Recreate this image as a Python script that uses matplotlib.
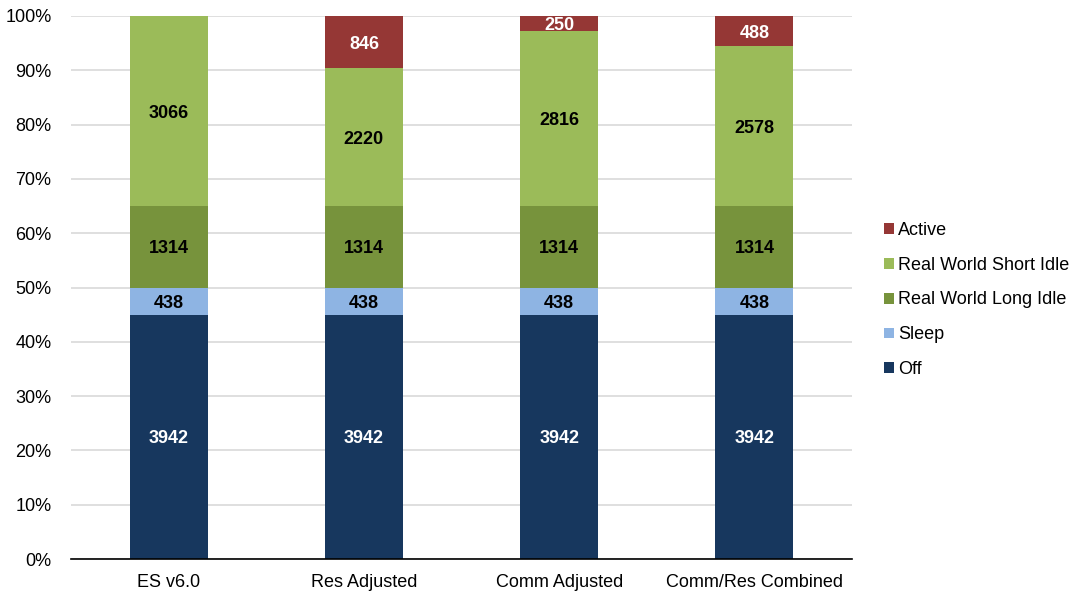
import numpy as np
import matplotlib
matplotlib.use("Agg")
import matplotlib.pyplot as plt
from matplotlib.patches import Patch

plt.rcParams['font.family'] = ['Liberation Sans', 'DejaVu Sans']

# hours per year in each mode
scenarios = ['ES v6.0', 'Res Adjusted', 'Comm Adjusted', 'Comm/Res Combined']
off = [3942, 3942, 3942, 3942]
sleep = [438, 438, 438, 438]
long_idle = [1314, 1314, 1314, 1314]
short_idle = [3066, 2220, 2816, 2578]
active = [0, 846, 250, 488]

modes = ['Off', 'Sleep', 'Real World Long Idle', 'Real World Short Idle', 'Active']
series = [off, sleep, long_idle, short_idle, active]
colors = ['#17375E', '#8EB4E3', '#77933C', '#9BBB59', '#953735']
text_colors = ['white', 'black', 'black', 'black', 'white']

data = np.array(series, dtype=float)
totals = data.sum(axis=0)
pct = data / totals * 100

fig = plt.figure(figsize=(10.75, 5.94), dpi=100)
ax = fig.add_axes([71 / 1075, 1 - 559 / 594, (852 - 71) / 1075, (559 - 16) / 594])

x = np.arange(len(scenarios))
bottom = np.zeros(len(scenarios))
for vals, p, col, tc in zip(series, pct, colors, text_colors):
    ax.bar(x, p, 0.4, bottom=bottom, color=col, zorder=3)
    for i, v in enumerate(vals):
        if v > 0:
            ax.text(x[i], bottom[i] + p[i] / 2, str(v), ha='center', va='center_baseline',
                    color=tc, fontsize=13, fontweight='bold', zorder=4)
    bottom += p

ax.set_xlim(-0.5, 3.5)
ax.set_ylim(0, 100)
ax.set_yticks(np.arange(0, 101, 10))
ax.set_yticklabels([f'{t}%' for t in range(0, 101, 10)])
ax.set_xticks(x)
ax.set_xticklabels(scenarios)
ax.tick_params(length=0, labelsize=13, colors='black')
ax.tick_params(axis='x', pad=11)
ax.tick_params(axis='y', pad=14)
ax.grid(axis='y', color='#D9D9D9', linewidth=1.2, zorder=0)
for s in ['top', 'right', 'left']:
    ax.spines[s].set_visible(False)
ax.spines['bottom'].set_color('black')
ax.spines['bottom'].set_linewidth(1.2)
ax.spines['bottom'].set_zorder(5)

handles = [Patch(facecolor=c, edgecolor='none') for c in colors][::-1]
fig.legend(handles, modes[::-1], loc='center left', bbox_to_anchor=(884 / 1075, 1 - 300 / 594),
           frameon=False, fontsize=13, handlelength=0.55, handleheight=0.55,
           handletextpad=0.25, labelspacing=0.99, borderaxespad=0, borderpad=0)

fig.savefig('out.png', dpi=100)
